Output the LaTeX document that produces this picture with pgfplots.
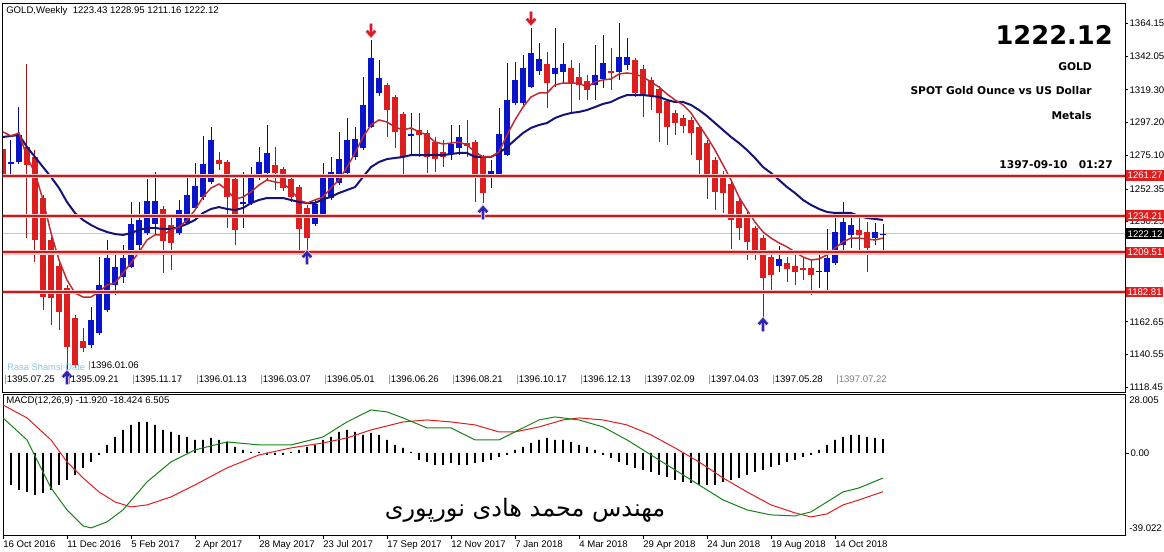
\documentclass[border=0pt]{standalone}
\usepackage{pgfplots}
\pgfplotsset{compat=1.18}
\usepackage{pgfplotstable}
\usepackage{fontspec}
\setmainfont{Liberation Sans}
\newfontfamily\boldf{DejaVu Sans}
\newfontfamily\arabicfont[Script=Arabic]{DejaVu Sans}
\TeXXeTstate=1

\definecolor{bullc}{HTML}{0A14C8}
\definecolor{bearc}{HTML}{DC1E1E}
\definecolor{bullw}{HTML}{0A0A8C}
\definecolor{bearw}{HTML}{A01414}
\definecolor{maRed}{HTML}{C0282D}
\definecolor{maNavy}{HTML}{141478}
\definecolor{lvl}{HTML}{C41C1C}
\definecolor{lvlglow}{HTML}{F5C4C4}
\definecolor{lvlbox}{HTML}{E02020}
\definecolor{shamsi}{HTML}{8CC8E8}
\definecolor{macdG}{HTML}{168216}
\definecolor{macdR}{HTML}{E01E1E}
\definecolor{arrUp}{HTML}{2828B4}
\definecolor{arrDn}{HTML}{D02020}
\definecolor{arrGlow}{HTML}{EDB8D4}

\pgfdeclareplotmark{uarr}{%
  \pgfpathmoveto{\pgfqpoint{0pt}{-4.8pt}}\pgfpathlineto{\pgfqpoint{0pt}{3.5pt}}%
  \pgfpathmoveto{\pgfqpoint{-3.2pt}{0.6pt}}\pgfpathlineto{\pgfqpoint{0pt}{4.2pt}}\pgfpathlineto{\pgfqpoint{3.2pt}{0.6pt}}%
  \pgfusepathqstroke}
\pgfdeclareplotmark{darr}{%
  \pgfpathmoveto{\pgfqpoint{0pt}{4.8pt}}\pgfpathlineto{\pgfqpoint{0pt}{-3.5pt}}%
  \pgfpathmoveto{\pgfqpoint{-3.2pt}{-0.6pt}}\pgfpathlineto{\pgfqpoint{0pt}{-4.2pt}}\pgfpathlineto{\pgfqpoint{3.2pt}{-0.6pt}}%
  \pgfusepathqstroke}

% weekly Heikin-Ashi candles, i = weeks since 16 Oct 2016
\pgfplotstableread{
i o h l c
1 1269.8 1285.4 1259.7 1270.5
2 1270.5 1307.6 1269.2 1288.7
11 1147.0 1172.7 1145.0 1163.9
12 1155.1 1206.4 1153.8 1187.5
13 1170.6 1217.9 1169.3 1205.7
14 1187.5 1209.8 1180.8 1199.7
15 1192.9 1214.5 1188.9 1205.7
16 1199.7 1243.5 1199.0 1228.7
17 1214.5 1243.5 1211.1 1231.4
18 1222.6 1259.0 1221.3 1244.2
19 1228.7 1263.8 1221.9 1244.2
22 1222.6 1244.9 1221.3 1238.1
23 1229.4 1260.4 1228.0 1248.2
24 1239.5 1269.8 1238.1 1254.3
25 1246.9 1288.1 1244.9 1269.2
26 1257.0 1294.1 1255.7 1285.4
30 1242.2 1263.8 1226.0 1243.5
31 1242.8 1267.1 1241.5 1259.7
32 1259.7 1280.6 1258.4 1270.5
33 1263.1 1295.5 1258.4 1276.6
39 1228.7 1244.9 1227.3 1242.2
40 1234.8 1269.8 1234.1 1259.7
41 1246.2 1273.9 1244.9 1263.8
42 1256.3 1290.8 1255.0 1272.5
43 1263.1 1300.2 1261.7 1285.4
44 1273.9 1294.1 1271.9 1286.0
45 1280.0 1327.9 1278.6 1309.0
46 1294.1 1352.8 1293.5 1340.7
47 1317.1 1339.3 1315.1 1327.2
51 1288.1 1303.6 1275.2 1289.4
56 1275.9 1295.5 1271.9 1282.7
57 1280.0 1295.5 1275.2 1287.4
61 1261.1 1271.9 1253.0 1264.4
62 1261.7 1307.0 1261.1 1289.4
63 1275.2 1337.3 1274.6 1312.4
64 1310.3 1338.0 1309.0 1325.9
65 1310.3 1342.7 1309.0 1333.9
66 1321.1 1360.9 1320.5 1344.1
67 1331.9 1350.8 1329.2 1340.0
69 1329.9 1360.9 1321.1 1333.9
70 1331.2 1350.8 1323.8 1336.6
74 1322.5 1349.5 1312.4 1329.2
75 1326.5 1356.2 1320.5 1337.3
77 1331.2 1364.3 1325.9 1341.4
78 1336.0 1354.2 1332.6 1341.4
97 1200.3 1213.8 1196.3 1205.1
102 1196.3 1209.1 1185.5 1197.0
103 1196.3 1225.3 1182.8 1205.7
104 1202.4 1233.4 1201.0 1223.3
105 1214.5 1243.5 1211.1 1230.0
106 1221.3 1234.8 1212.5 1228.0
109 1219.2 1229.4 1214.5 1223.3
110 1221.3 1228.95 1211.16 1221.9
}\bull

\pgfplotstableread{
i o h l c
0 1279.3 1282.0 1249.6 1260.4
3 1280.6 1336.6 1219.2 1268.5
4 1273.9 1278.6 1203.0 1217.9
5 1246.2 1248.2 1170.6 1179.4
6 1217.9 1219.9 1160.5 1178.7
7 1200.3 1202.4 1157.2 1169.3
8 1185.5 1187.5 1128.8 1145.7
9 1165.2 1167.3 1131.5 1133.5
10 1149.7 1158.5 1142.3 1145.0
20 1238.8 1240.8 1195.6 1217.2
21 1228.0 1234.1 1197.6 1215.9
27 1271.9 1277.3 1265.1 1269.2
28 1270.5 1271.9 1226.0 1246.9
29 1259.0 1261.7 1214.5 1224.6
34 1268.5 1280.6 1251.6 1263.1
35 1265.8 1267.1 1250.9 1253.0
36 1259.0 1261.1 1243.5 1246.9
37 1253.6 1255.0 1211.1 1225.3
38 1239.5 1241.5 1209.8 1219.2
48 1322.5 1323.8 1287.4 1305.6
49 1314.4 1315.7 1280.0 1290.8
50 1302.9 1304.3 1260.4 1273.9
52 1292.1 1303.6 1273.9 1288.7
53 1290.1 1292.1 1263.1 1273.9
54 1284.0 1287.4 1263.8 1272.5
55 1277.3 1285.4 1267.1 1273.9
58 1283.3 1298.9 1273.9 1281.3
59 1284.0 1285.4 1243.5 1260.4
60 1273.2 1275.2 1242.8 1249.6
68 1336.6 1344.7 1307.0 1323.8
71 1333.9 1339.3 1304.3 1323.8
72 1327.9 1337.3 1312.4 1322.5
73 1325.2 1329.2 1312.4 1319.1
76 1331.9 1347.4 1319.1 1330.6
79 1339.3 1340.7 1314.4 1317.1
80 1333.3 1336.0 1300.9 1315.7
81 1325.9 1327.9 1305.6 1315.7
82 1319.8 1321.8 1284.0 1303.6
83 1311.7 1313.0 1282.0 1294.1
84 1303.6 1305.6 1288.7 1296.8
85 1300.2 1302.2 1290.1 1294.8
86 1298.9 1300.9 1275.2 1290.1
87 1294.1 1295.5 1261.7 1271.9
88 1283.3 1285.4 1245.5 1259.7
89 1271.9 1273.9 1238.1 1250.3
90 1261.7 1264.4 1236.1 1249.6
91 1255.7 1258.4 1211.8 1231.4
92 1244.2 1246.2 1217.9 1226.0
93 1235.4 1236.8 1204.4 1216.5
94 1226.0 1227.3 1204.4 1211.1
95 1219.2 1221.3 1165.2 1192.2
96 1206.4 1208.4 1184.1 1194.3
98 1202.4 1206.4 1189.5 1198.3
99 1200.3 1209.1 1187.5 1196.3
100 1199.0 1205.7 1190.9 1197.6
101 1199.0 1204.4 1180.8 1194.3
107 1224.6 1234.8 1207.8 1221.3
108 1223.3 1230.0 1196.3 1212.5
}\bear

\pgfplotstableread{
i v
0 -11.88
1 -15.21
2 -17.59
3 -18.54
4 -19.96
5 -19.01
6 -17.59
7 -15.21
8 -12.83
9 -10.46
10 -7.13
11 -4.28
12 -0.95
13 3.80
14 7.60
15 10.93
16 13.31
17 14.73
18 14.73
19 13.31
20 10.93
21 9.98
22 8.56
23 7.60
24 6.18
25 6.18
26 7.13
27 6.18
28 5.23
29 2.85
30 1.43
31 0.48
32 0.48
33 -0.95
34 -0.95
35 -0.95
36 0.48
37 1.43
38 2.85
39 3.80
40 6.18
41 7.60
42 9.98
43 10.93
44 9.98
45 8.56
46 9.51
47 8.56
48 6.18
49 3.80
50 2.38
51 0.48
52 -3.33
53 -4.28
54 -5.70
55 -5.70
56 -4.75
57 -5.70
58 -5.70
59 -4.75
60 -4.28
61 -3.33
62 -1.90
63 -0.95
64 1.43
65 2.85
66 4.75
67 6.18
68 7.13
69 6.18
70 6.18
71 5.23
72 3.80
73 2.85
74 1.43
75 -0.95
76 -2.38
77 -4.28
78 -5.70
79 -7.13
80 -8.08
81 -9.03
82 -10.46
83 -11.41
84 -12.83
85 -13.78
86 -14.26
87 -15.21
88 -15.21
89 -15.21
90 -13.78
91 -12.83
92 -11.88
93 -10.46
94 -9.03
95 -8.08
96 -6.65
97 -5.70
98 -4.28
99 -3.33
100 -1.90
101 -0.95
102 1.43
103 3.80
104 6.18
105 7.60
106 8.56
107 8.56
108 7.60
109 7.13
110 6.505
}\hist

\begin{document}
\begin{tikzpicture}
\begin{axis}[
  at={(2.25pt,-2.25pt)}, anchor=north west,
  scale only axis, width=841.5pt, height=291.75pt,
  xmin=0, xmax=140.25, ymin=1115.3, ymax=1377.8,
  xtick=\empty,
  ytick={1118.45,1140.55,1162.65,1185.40,1207.50,1230.25,1252.35,1275.10,1297.20,1319.30,1342.05,1364.15},
  yticklabels={1118.45,1140.55,1162.65,,,\raisebox{-4pt}{1230.25},1252.35,1275.10,1297.20,1319.30,1342.05,1364.15},
  ytick pos=right, yticklabel pos=right,
  tick align=outside, major tick length=2.25pt,
  tick style={black, line width=0.6pt},
  yticklabel style={font=\fontsize{7.2}{8}\selectfont, anchor=west, inner sep=1pt},
  axis line style={black, line width=0.75pt},
]
% current price line
\addplot[gray!45, line width=0.75pt] coordinates {(-2,1222.12) (142,1222.12)};
% wicks
\addplot[draw=none, forget plot, error bars/.cd, y dir=both, y explicit, error mark=none,
  error bar style={draw=bullw, line width=0.75pt}]
  table[x=i, y expr={(\thisrow{h}+\thisrow{l})/2}, y error expr={(\thisrow{h}-\thisrow{l})/2}] {\bull};
\addplot[draw=none, forget plot, error bars/.cd, y dir=both, y explicit, error mark=none,
  error bar style={draw=bearw, line width=0.75pt}]
  table[x=i, y expr={(\thisrow{h}+\thisrow{l})/2}, y error expr={(\thisrow{h}-\thisrow{l})/2}] {\bear};
% bodies
\addplot[draw=none, forget plot, error bars/.cd, y dir=both, y explicit, error mark=none,
  error bar style={draw=bullc, line width=4.1pt}]
  table[x=i, y expr={(\thisrow{o}+\thisrow{c})/2}, y error expr={max(abs(\thisrow{c}-\thisrow{o})/2,0.4)}] {\bull};
\addplot[draw=none, forget plot, error bars/.cd, y dir=both, y explicit, error mark=none,
  error bar style={draw=bearc, line width=4.1pt}]
  table[x=i, y expr={(\thisrow{o}+\thisrow{c})/2}, y error expr={max(abs(\thisrow{c}-\thisrow{o})/2,0.4)}] {\bear};
% moving averages
\addplot[maNavy, line width=1.5pt] coordinates {
(0,1287.4)(1,1288.1)(2,1288.7)(3,1280.6)(4,1273.9)(5,1267.1)(6,1260.4)(7,1253.0)(8,1243.5)(9,1236.1)(10,1231.4)(11,1228.0)(12,1225.3)(13,1223.3)(14,1221.9)(15,1221.3)(16,1222.6)(17,1224.6)(18,1226.0)(19,1226.0)(20,1225.3)(21,1225.3)(22,1226.6)(23,1228.7)(24,1231.4)(25,1236.1)(26,1238.8)(27,1240.1)(28,1238.8)(29,1238.1)(30,1239.5)(31,1242.8)(32,1244.9)(33,1246.2)(34,1246.2)(35,1246.2)(36,1244.9)(37,1243.5)(38,1242.8)(39,1242.8)(40,1245.5)(41,1246.9)(42,1249.6)(43,1251.6)(44,1253.6)(45,1260.4)(46,1267.1)(47,1270.5)(48,1272.5)(49,1273.2)(50,1273.9)(51,1275.2)(52,1275.2)(53,1275.2)(54,1275.2)(55,1275.2)(56,1275.9)(57,1276.6)(58,1276.6)(59,1273.9)(60,1273.9)(61,1273.9)(62,1276.6)(63,1280.6)(64,1285.4)(65,1290.1)(66,1293.5)(67,1295.5)(68,1296.8)(69,1300.2)(70,1302.2)(71,1303.6)(72,1304.3)(73,1305.6)(74,1307.6)(75,1309.7)(76,1311.0)(77,1313.7)(78,1315.7)(79,1315.7)(80,1315.7)(81,1315.1)(82,1314.4)(83,1312.4)(84,1311.0)(85,1311.0)(86,1309.0)(87,1305.6)(88,1301.5)(89,1296.8)(90,1292.1)(91,1287.4)(92,1283.3)(93,1278.6)(94,1273.2)(95,1267.1)(96,1263.1)(97,1258.4)(98,1253.6)(99,1249.6)(100,1244.9)(101,1241.5)(102,1238.8)(103,1236.8)(104,1236.1)(105,1236.1)(106,1236.1)(107,1234.1)(108,1232.7)(109,1232.1)(110,1231.4)};
\addplot[maRed, line width=1.1pt] coordinates {
(0,1290.8)(1,1288.1)(2,1290.1)(3,1273.9)(4,1263.1)(5,1244.9)(6,1222.6)(7,1204.4)(8,1190.9)(9,1182.1)(10,1179.4)(11,1179.4)(12,1182.8)(13,1187.5)(14,1188.9)(15,1195.6)(16,1202.4)(17,1209.8)(18,1217.9)(19,1221.3)(20,1221.3)(21,1224.6)(22,1226.6)(23,1231.4)(24,1238.1)(25,1246.9)(26,1253.0)(27,1255.7)(28,1251.6)(29,1245.5)(30,1246.9)(31,1250.3)(32,1255.0)(33,1258.4)(34,1257.0)(35,1256.3)(36,1251.6)(37,1244.9)(38,1242.8)(39,1244.9)(40,1246.9)(41,1253.0)(42,1258.4)(43,1267.1)(44,1276.6)(45,1287.4)(46,1295.5)(47,1298.9)(48,1297.5)(49,1294.1)(50,1292.1)(51,1293.5)(52,1290.8)(53,1288.7)(54,1284.0)(55,1282.7)(56,1283.3)(57,1284.0)(58,1282.0)(59,1277.3)(60,1273.9)(61,1273.9)(62,1277.3)(63,1288.7)(64,1298.9)(65,1307.6)(66,1314.4)(67,1317.1)(68,1317.1)(69,1322.5)(70,1323.8)(71,1323.8)(72,1323.8)(73,1321.1)(74,1324.5)(75,1325.9)(76,1326.5)(77,1329.9)(78,1330.6)(79,1329.9)(80,1327.9)(81,1324.5)(82,1321.1)(83,1316.4)(84,1312.4)(85,1309.0)(86,1303.6)(87,1295.5)(88,1287.4)(89,1278.6)(90,1268.5)(91,1258.4)(92,1246.9)(93,1238.1)(94,1230.0)(95,1223.3)(96,1219.2)(97,1215.9)(98,1213.2)(99,1209.8)(100,1206.4)(101,1204.4)(102,1205.1)(103,1207.8)(104,1212.5)(105,1216.5)(106,1219.2)(107,1219.2)(108,1218.5)(109,1217.9)(110,1219.2)};
% horizontal levels
\foreach \lv in {1261.27,1234.21,1209.51,1182.81}{
  \addplot[lvlglow, line width=3.2pt, forget plot] coordinates {(-2,\lv) (142,\lv)};
  \addplot[lvl, line width=1.4pt, forget plot] coordinates {(-2,\lv) (142,\lv)};
}
% fractal arrows
\addplot[only marks, mark=uarr, arrGlow, line width=3pt, forget plot] coordinates {(8,1124.8) (38,1205.7) (60,1236.1) (95,1160.5)};
\addplot[only marks, mark=uarr, arrUp, line width=1.8pt] coordinates {(8,1124.8) (38,1205.7) (60,1236.1) (95,1160.5)};
\addplot[only marks, mark=darr, arrGlow, line width=3pt, forget plot] coordinates {(46,1359.6) (66,1367.7)};
\addplot[only marks, mark=darr, arrDn, line width=1.8pt] coordinates {(46,1359.6) (66,1367.7)};
\coordinate (b1) at (axis cs:140.25,1261.27);
\coordinate (b2) at (axis cs:140.25,1234.21);
\coordinate (b3) at (axis cs:140.25,1209.51);
\coordinate (b4) at (axis cs:140.25,1182.81);
\coordinate (b5) at (axis cs:140.25,1222.12);
\end{axis}

\begin{axis}[
  at={(2.25pt,-295.5pt)}, anchor=north west,
  scale only axis, width=841.5pt, height=105.75pt,
  xmin=0, xmax=140.25, ymin=-39.022, ymax=28.005,
  xtick={0,8,...,104},
  xticklabels={16 Oct 2016,11 Dec 2016,5 Feb 2017,2 Apr 2017,28 May 2017,23 Jul 2017,17 Sep 2017,12 Nov 2017,7 Jan 2018,4 Mar 2018,29 Apr 2018,24 Jun 2018,19 Aug 2018,14 Oct 2018},
  xtick pos=bottom,
  ytick={0}, yticklabels={0.00},
  ytick pos=right, yticklabel pos=right,
  tick align=outside, major tick length=3pt,
  tick style={black, line width=0.6pt},
  xticklabel style={font=\fontsize{7.2}{8}\selectfont, anchor=north west, inner sep=1pt, xshift=-1pt},
  yticklabel style={font=\fontsize{7.2}{8}\selectfont, anchor=west, inner sep=1pt},
  axis line style={black, line width=0.75pt},
]
\addplot[ybar, bar width=1.4pt, fill=black, draw=none] table[x=i, y=v] {\hist};
\addplot[macdR, line width=0.75pt] coordinates {
(0,22.81)(3,16.64)(6,6.18)(8,-4.28)(10,-11.88)(12,-18.54)(14,-23.29)(16,-25.67)(18,-24.72)(21,-20.91)(24,-15.21)(28,-7.13)(32,-0.95)(36,2.38)(40,4.75)(43,7.13)(46,10.93)(50,14.73)(53,15.68)(56,14.73)(59,13.31)(62,9.98)(64,9.98)(67,12.36)(70,15.68)(72,16.64)(75,15.68)(78,13.31)(81,8.56)(84,2.38)(87,-4.28)(90,-11.88)(93,-18.54)(96,-24.72)(99,-28.52)(101,-30.42)(103,-28.99)(105,-24.72)(107,-22.34)(110,-18.424)};
\addplot[macdG, line width=0.75pt] coordinates {
(0,16.64)(3,6.18)(6,-16.64)(8,-27.09)(10,-34.70)(11,-35.65)(13,-32.80)(15,-27.09)(18,-13.78)(21,-4.28)(24,1.43)(28,5.23)(32,3.80)(36,3.80)(40,7.60)(43,14.73)(46,20.44)(48,19.49)(50,16.64)(53,11.88)(56,11.88)(59,6.18)(62,6.18)(64,9.98)(67,15.68)(69,17.11)(72,15.68)(75,12.36)(78,6.18)(81,-0.95)(84,-8.08)(87,-15.21)(90,-22.34)(93,-27.09)(96,-29.47)(99,-29.94)(101,-28.04)(103,-23.29)(105,-18.54)(107,-16.64)(110,-11.920)};
\end{axis}

% price boxes on the right scale
\foreach \b/\t in {b1/1261.27,b2/1234.21,b3/1209.51,b4/1182.81}{
  \node[anchor=west, fill=lvlbox, text=white, inner sep=1.2pt, minimum height=8pt,
        font=\fontsize{7.2}{8}\selectfont] at ([xshift=0.6pt]\b) {\t};
}
\node[anchor=west, fill=black, text=white, inner sep=1.2pt, minimum height=8pt,
      font=\fontsize{7.2}{8}\selectfont] at ([xshift=0.6pt]b5) {1222.12};

\begin{scope}[x=0.75pt, y=-0.75pt]
\node[anchor=west, inner sep=0pt, font=\fontsize{7.2}{8}\selectfont] at (6,11) {GOLD,Weekly\ \ 1223.43 1228.95 1211.16 1222.12};
\node[anchor=west, inner sep=0pt, font=\fontsize{7.2}{8}\selectfont] at (6,401) {MACD(12,26,9) -11.920 -18.424 6.505};
\node[anchor=east, inner sep=0pt, font=\boldf\bfseries\fontsize{19.3}{22}\selectfont] at (1113,35) {1222.12};
\node[anchor=east, inner sep=0pt, font=\boldf\bfseries\fontsize{8}{9}\selectfont] at (1092,67) {GOLD};
\node[anchor=east, inner sep=0pt, font=\boldf\bfseries\fontsize{8}{9}\selectfont] at (1092,91) {SPOT Gold Ounce vs US Dollar};
\node[anchor=east, inner sep=0pt, font=\boldf\bfseries\fontsize{8}{9}\selectfont] at (1092,116) {Metals};
\node[anchor=east, inner sep=0pt, font=\boldf\bfseries\fontsize{8}{9}\selectfont] at (1113,165) {1397-09-10\ \ \ 01:27};
\node[anchor=west, inner sep=0pt, font=\fontsize{7.2}{8}\selectfont] at (1129,400) {28.005};
\node[anchor=west, inner sep=0pt, font=\fontsize{7.2}{8}\selectfont] at (1129,528) {-39.022};
\node[anchor=west, inner sep=0pt, text=shamsi, font=\fontsize{7}{8}\selectfont] at (7,367) {Rasa Shamsi Date};
\node[anchor=west, inner sep=0pt, font=\fontsize{7.2}{8}\selectfont] at (88,366) {\textcolor{gray}{|}1396.01.06};
\foreach \lab [count=\k from 0] in {1395.07.25,1395.09.21,1395.11.17,1396.01.13,1396.03.07,1396.05.01,1396.06.26,1396.08.21,1396.10.17,1396.12.13,1397.02.09,1397.04.03,1397.05.28}{
  \node[anchor=west, inner sep=0pt, font=\fontsize{7.2}{8}\selectfont] at ({4+64*\k},380) {\textcolor{gray}{|}\lab};
}
\node[anchor=west, inner sep=0pt, text=gray, font=\fontsize{7.2}{8}\selectfont] at (836,380) {|1397.07.22};
\node[font=\arabicfont\fontsize{18}{22}\selectfont] at (525,510) {\beginR مهندس محمد هادی نورپوری\endR};
\end{scope}

\pgfresetboundingbox
\path[use as bounding box] (0,0) rectangle (873pt,-413.25pt);
\end{tikzpicture}
\end{document}
